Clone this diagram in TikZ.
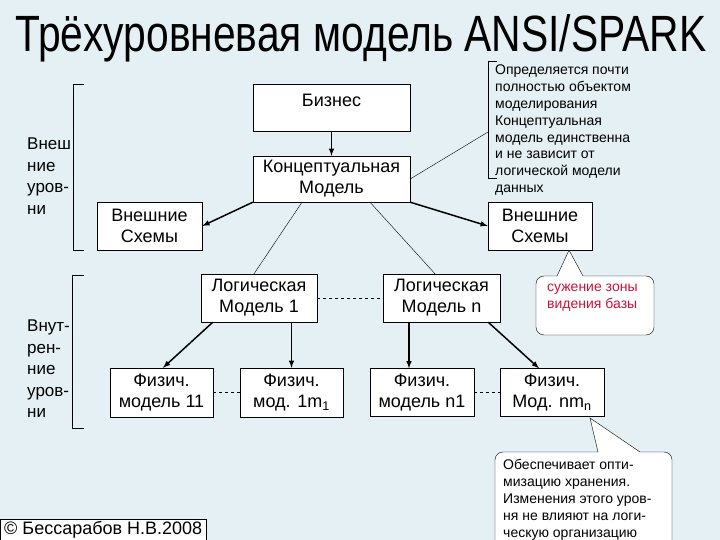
\documentclass[tikz,border=0pt]{standalone}
\usepackage{fontspec}
\setmainfont{Liberation Sans}
\definecolor{slidebg}{RGB}{228,240,244}
\definecolor{notered}{RGB}{200,20,60}

\begin{document}
\begin{tikzpicture}[x=1bp,y=-1bp,
    box/.style={draw,fill=white,align=center,inner sep=0pt,
        font=\fontsize{18bp}{21bp}\selectfont},
    arr/.style={line width=1.5bp,->,>=latex},
    callout/.style={draw,fill=white},
    sidetext/.style={align=left,anchor=north west,inner sep=0pt,
        font=\fontsize{17bp}{21.5bp}\selectfont},
    notetext/.style={align=left,anchor=north west,inner sep=0pt,
        font=\fontsize{14bp}{16.8bp}\selectfont}]

    % Slide background
    \fill[slidebg] (0,0) rectangle (720,540);
    \useasboundingbox (0,0) rectangle (720,540);

    % Title
    \node[anchor=base,inner sep=0pt,font=\fontsize{51bp}{60bp}\selectfont] (title) at (361,52)
        {\scalebox{0.8}[1]{Трёхуровневая модель ANSI/SPARK}};

    % Boxes
    \node[box,minimum width=157bp,minimum height=47bp] (biz) at (331.5,107.5) {Бизнес\\[-12bp] \strut};
    \node[box,minimum width=157bp,minimum height=46bp] (concept) at (331.5,179) {Концептуальная\\Модель};
    \node[box,minimum width=105bp,minimum height=48bp] (extL) at (149.5,226) {Внешние\\Схемы};
    \node[box,minimum width=104bp,minimum height=48bp] (extR) at (540,226) {Внешние\\Схемы};
    \node[box,minimum width=116bp,minimum height=48bp] (log1) at (259,298) {Логическая\\Модель 1};
    \node[box,minimum width=117bp,minimum height=48bp] (logn) at (441.5,298) {Логическая\\Модель n};
    \node[box,minimum width=103bp,minimum height=49bp] (ph11) at (161.5,392.5) {Физич.\\модель 11};
    \node[box,minimum width=103bp,minimum height=49bp] (ph1m) at (291.5,392.5) {Физич.\\мод. 1m\textsubscript{1}};
    \node[box,minimum width=104bp,minimum height=48bp] (phn1) at (422,392.5) {Физич.\\модель n1};
    \node[box,minimum width=104bp,minimum height=48bp] (phnm) at (552,392.5) {Физич.\\Мод. nm\textsubscript{n}};

    % Arrows
    \draw[arr] (biz.south) -- (concept.north);
    \draw[arr] (concept.south west) -- (extL.east);
    \draw[arr] (concept.south east) -- (extR.west);
    \draw[arr] ([xshift=12bp]log1.south west) -- ([xshift=1.5bp]ph11.north);
    \draw[arr] (log1.south -| ph1m.north) -- (ph1m.north);
    \draw[arr] ([xshift=-13bp]phn1.north |- logn.south) -- ([xshift=-13bp]phn1.north);
    \draw[arr] ([xshift=-12bp]logn.south east) -- ([xshift=-13bp]phnm.north);

    % thin links from the conceptual model
    \draw ([xshift=-29.5bp]concept.south) -- ([xshift=-5bp]log1.north);
    \draw ([xshift=38.5bp]concept.south) -- ([xshift=-6.5bp]logn.north);

    % dashed links between siblings
    \draw[dashed] (log1.east) -- (logn.west);
    \draw[dashed] (ph11.east) -- (ph1m.west);
    \draw[dashed] (phn1.east) -- (phnm.west);

    % Note on the conceptual model
    \coordinate (notetop) at (497,61);
    \coordinate (notebot) at (497,178);
    \coordinate (notemid) at (488,132);
    \draw (notetop) -- ++(-9,0) |- (notebot);
    \draw (concept.east) -- (notemid);
    \node[notetext] (note) at (495,65) {Определяется почти\\полностью объектом\\моделирования\\Концептуальная\\модель единственна\\и не зависит от\\логической модели\\данных};

    % Callout under the right external schemes
    \draw[callout] (557,276) -- ([xshift=29bp]extR.south) -- (583,276) [rounded corners=8bp] -- (654,276) -- (654,335) -- (536,335) -- (536,276) -- (557,276);
    \node[notetext,text=notered] (narrow) at (547,284) {сужение зоны\\видения базы};

    % Callout under the last physical model
    \coordinate (tip) at (590,418);
    \draw[callout] (598,452) -- (tip) -- (640,452) [rounded corners=8bp] -- (672,452) -- (672,552) -- (495,552) -- (495,452) -- (598,452);
    \node[notetext,font=\fontsize{14bp}{17bp}\selectfont] (store) at (503,459)
        {Обеспечивает опти-\\мизацию хранения.\\Изменения этого уров-\\ня не влияют на логи-\\ческую организацию};

    % Level brackets
    \draw (84,84) -- (73,84) -- (73,250) -- (84,250);
    \node[sidetext] (outer) at (27,138) {Внеш\\ние\\уров-\\ни};
    \draw (84,275) -- (72,275) -- (72,428) -- (84,428);
    \node[sidetext] (inner) at (27,320) {Внут-\\рен-\\ние\\уров-\\ни};

    % Footer
    \node[draw,fill=white,anchor=north west,inner xsep=4bp,inner ysep=2bp,
        font=\fontsize{18bp}{20bp}\selectfont] (footer) at (0,519) {© Бессарабов Н.В.2008};

\end{tikzpicture}
\end{document}
